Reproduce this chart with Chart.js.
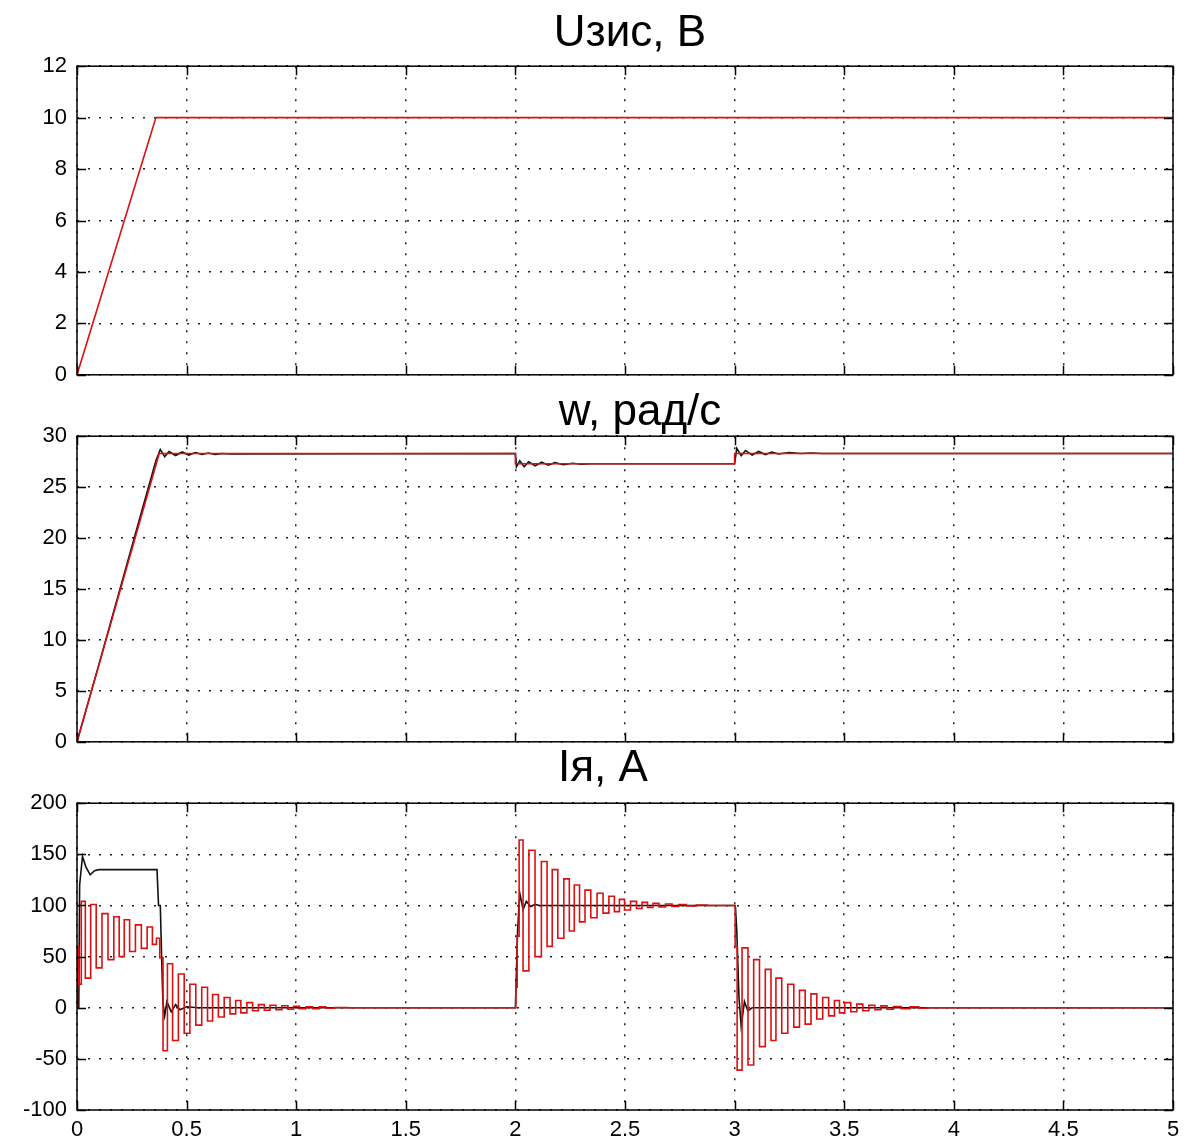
<!DOCTYPE html>
<html>
<head>
<meta charset="utf-8">
<script src="https://cdn.jsdelivr.net/npm/chart.js@4.4.1/dist/chart.umd.min.js"></script>
<style>
  body { margin: 0; background: #fff; width: 1202px; height: 1143px; position: relative; overflow: hidden; font-family: "Liberation Sans", Arial, sans-serif; }
  canvas { position: absolute; left: 0; }
  .ttl { position: absolute; width: 400px; text-align: center; font-size: 44px; line-height: 44px; color: #000; }
</style>
</head>
<body>
<canvas id="pU" width="1202" height="355" style="top:43px"></canvas>
<canvas id="pW" width="1202" height="352" style="top:413px"></canvas>
<canvas id="pI" width="1202" height="363" style="top:780px"></canvas>
<div class="ttl" style="top:9px;left:430px">Uзис, В</div>
<div class="ttl" style="top:388px;left:440px">w, рад/с</div>
<div class="ttl" style="top:744px;left:403px">Iя, А</div>
<script>
// shared time axis labels
const xTickLabels = ['0', '0.5', '1', '1.5', '2', '2.5', '3', '3.5', '4', '4.5', '5'];
const uTickLabels = ['0', '2', '4', '6', '8', '10', '12'];
const wTickLabels = ['0', '5', '10', '15', '20', '25', '30'];
const iTickLabels = ['-100', '-50', '0', '50', '100', '150', '200'];

// Uзис, В (set voltage)
const uT = [0, 0.36, 5];
const uV = [0, 10, 10];

// w, рад/с - red (reference) and black (actual)
const wRefT = [0, 0.375, 2.0, 2.0, 3.0, 3.0, 5];
const wRefV = [0, 28.3, 28.3, 27.3, 27.3, 28.3, 28.3];
const wT = [0, 0.1, 0.2, 0.3, 0.36, 0.38, 0.40, 0.42, 0.45, 0.48, 0.51, 0.54, 0.57, 0.60, 0.63, 0.66, 0.70,
            2.0, 2.005, 2.02, 2.04, 2.06, 2.09, 2.12, 2.15, 2.18, 2.22, 2.26, 2.30, 2.35,
            3.0, 3.01, 3.03, 3.05, 3.08, 3.11, 3.14, 3.17, 3.20, 3.25, 3.30, 3.35, 3.40, 5];
const wV = [0, 7.6, 15.3, 23, 27.6, 28.7, 28.0, 28.5, 28.1, 28.45, 28.15, 28.4, 28.2, 28.35, 28.2, 28.3, 28.25,
            28.3, 27.0, 27.6, 27.0, 27.5, 27.1, 27.45, 27.15, 27.4, 27.2, 27.35, 27.25, 27.3,
            27.3, 28.8, 28.1, 28.6, 28.15, 28.5, 28.2, 28.45, 28.25, 28.4, 28.3, 28.35, 28.3, 28.3];

// Iя, А - red (oscillating) and black
const iRedT = [0, 0.004, 0.013, 0.026, 0.05, 0.075, 0.1, 0.128, 0.155, 0.181, 0.204, 0.227, 0.253, 0.28, 0.307, 0.333, 0.355, 0.37,
               0.385, 0.40, 0.425, 0.447, 0.478, 0.50, 0.53, 0.554, 0.584, 0.607, 0.63, 0.66, 0.683, 0.713, 0.735, 0.76,
               0.79, 0.812, 0.843, 0.866, 0.895, 0.92, 0.95, 0.975, 1.0, 1.03, 1.06, 1.09, 1.12, 1.15, 1.2, 1.27,
               2.0, 2.004, 2.012, 2.022, 2.048, 2.075, 2.104, 2.133, 2.156, 2.18, 2.207, 2.235, 2.257, 2.28, 2.305, 2.33,
               2.358, 2.387, 2.413, 2.44, 2.463, 2.486, 2.51, 2.54, 2.565, 2.59, 2.615, 2.64, 2.67, 2.7, 2.73, 2.76, 2.8, 2.85, 2.9,
               3.0, 3.005, 3.018, 3.05, 3.072, 3.102, 3.125, 3.155, 3.177, 3.2, 3.23, 3.255, 3.285, 3.307, 3.337, 3.36,
               3.39, 3.414, 3.444, 3.467, 3.49, 3.515, 3.545, 3.57, 3.6, 3.625, 3.655, 3.68, 3.71, 3.74, 3.78, 3.82, 3.86, 3.9, 5];
const iRedV = [0, 60, 23, 104, 29, 101, 39, 92, 47, 89, 50, 86, 55, 81, 58, 79, 62, 68,
               49, -42, 43, -32, 33, -25, 23, -17, 20, -13, 13, -9, 10, -6, 7, -5,
               5, -3, 3, -2.5, 2.5, -2, 2, -1.5, 1.5, -1, 1, -1, 0.8, -0.5, 0.3, 0,
               0, 20, 70, 164, 36, 154, 50, 143, 60, 135, 68, 126, 75, 120, 84, 115,
               88, 112, 92.5, 109, 94, 106, 95.5, 104, 97, 103, 98, 102, 98.5, 101.5, 99, 101, 99.5, 100.5, 100,
               100, 60, -61, 58.5, -56, 47, -38, 37.5, -32, 29, -25, 23, -19, 17, -16, 13.6,
               -11, 10, -8, 7, -5, 5, -4, 3.5, -3, 2.5, -2, 1.8, -1.5, 1.2, -1, 0.8, -0.5, 0, 0];
const iT = [0, 0.008, 0.012, 0.025, 0.04, 0.06, 0.08, 0.1, 0.365, 0.372,
            0.38, 0.386, 0.392, 0.40, 0.41, 0.43, 0.45, 0.47, 0.50, 0.55,
            1.2, 2.0, 2.004, 2.01, 2.02, 2.035, 2.05, 2.07, 2.09, 2.11,
            3.0, 3.004, 3.01, 3.02, 3.03, 3.045, 3.06, 3.08, 5];
const iV = [0, 0, 120, 148, 138, 130, 134, 135, 135, 100,
            100, 50, 5, -8, 6, -4, 3, -2, 1, 0,
            0, 0, 30, 75, 112, 96, 104, 99, 101, 100,
            100, 98, 75, 10, -18, 6, -3, 0, 0];

const RED = '#dd1010';
const BLACK = '#111';

function pts(t, v) {
    return t.map(function(x, i) { return { x: x, y: v[i] }; });
}

// matlab style box with inward tick marks
const frameTicks = {
    id: 'frameTicks',
    afterDatasetsDraw(chart) {
        const a = chart.chartArea, c = chart.ctx;
        const sx = chart.scales.x, sy = chart.scales.y;
        c.save();
        c.strokeStyle = '#000';
        c.lineWidth = 1.5;
        c.beginPath();
        sx.ticks.forEach(function(t) {
            const p = Math.round(sx.getPixelForValue(t.value)) + 0.5;
            c.moveTo(p, a.top); c.lineTo(p, a.top + 9);
            c.moveTo(p, a.bottom); c.lineTo(p, a.bottom - 9);
        });
        sy.ticks.forEach(function(t) {
            const p = Math.round(sy.getPixelForValue(t.value)) + 0.5;
            c.moveTo(a.left, p); c.lineTo(a.left + 9, p);
            c.moveTo(a.right, p); c.lineTo(a.right - 9, p);
        });
        c.stroke();
        c.strokeRect(a.left, a.top, a.right - a.left, a.bottom - a.top);
        c.restore();
    }
};

function makePanel(id, datasets, yMin, yMax, yStep, yLabels, showX, xHeight) {
    const tickFont = { family: '"Liberation Sans", Arial, sans-serif', size: 22 };
    return new Chart(document.getElementById(id), {
        type: 'line',
        data: { datasets: datasets },
        options: {
            responsive: false,
            animation: false,
            devicePixelRatio: 1,
            layout: { padding: { top: 15, left: 0, right: 29, bottom: 0 } },
            plugins: { legend: { display: false }, tooltip: { enabled: false } },
            elements: { point: { radius: 0 }, line: { tension: 0 } },
            scales: {
                x: {
                    type: 'linear', min: 0, max: 5,
                    ticks: {
                        stepSize: 0.5, display: showX, color: '#000', font: tickFont,
                        padding: 7, autoSkip: false, maxRotation: 0,
                        callback: function(v, i) { return xTickLabels[i]; }
                    },
                    grid: { color: '#222', lineWidth: 1.5, drawTicks: false },
                    border: { display: false, dash: [2, 9] },
                    afterFit: function(s) { s.height = xHeight; }
                },
                y: {
                    type: 'linear', min: yMin, max: yMax,
                    ticks: {
                        stepSize: yStep, color: '#000', font: tickFont, padding: 10,
                        callback: function(v, i) { return yLabels[i]; }
                    },
                    grid: { color: '#222', lineWidth: 1.5, drawTicks: false },
                    border: { display: false, dash: [2, 9] },
                    afterFit: function(s) { s.width = 77; }
                }
            }
        },
        plugins: [frameTicks]
    });
}

makePanel('pU', [
    { data: pts(uT, uV), borderColor: RED, borderWidth: 1.6 }
], 0, 12, 2, uTickLabels, false, 15);

makePanel('pW', [
    { data: pts(wRefT, wRefV), borderColor: RED, borderWidth: 1.6 },
    { data: pts(wT, wV), borderColor: BLACK, borderWidth: 1.6 }
], 0, 30, 5, wTickLabels, false, 15);

makePanel('pI', [
    { data: pts(iRedT, iRedV), borderColor: RED, borderWidth: 1.6, stepped: 'middle' },
    { data: pts(iT, iV), borderColor: BLACK, borderWidth: 1.6 }
], -100, 200, 50, iTickLabels, true, 33);
</script>
</body>
</html>
